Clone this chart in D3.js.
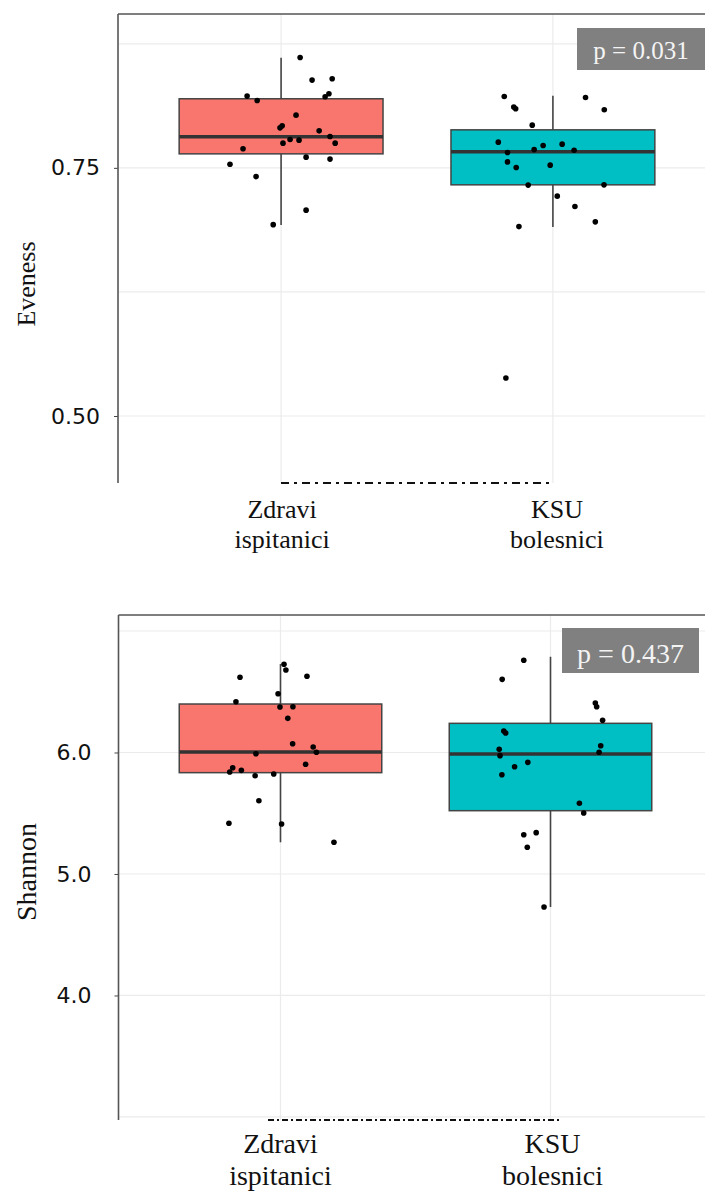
<!DOCTYPE html>
<html><head><meta charset="utf-8">
<script src="https://cdn.jsdelivr.net/npm/d3@7"></script>
<style>html,body{margin:0;padding:0;background:#fff;}svg{display:block;}
.serif{font-family:"Liberation Serif","Times New Roman","DejaVu Serif",serif;}
</style>
</head><body>
<svg id="chart" width="705" height="1193"></svg>
<script>
// ---------- DATA ----------
const catLine1 = ["Zdravi", "KSU"];
const catLine2 = ["ispitanici", "bolesnici"];
const boxColors = ["#F8766D", "#00BFC4"];

// Eveness panel
const evenessTicks = [0.50, 0.75];
const evenessGrid = [0.50, 0.625, 0.75, 0.875];
const evenessQ1 = [0.7641, 0.7329];
const evenessMedian = [0.7813, 0.7661];
const evenessQ3 = [0.8196, 0.7883];
const evenessLow = [0.6925, 0.6905];
const evenessHigh = [0.8609, 0.8226];
const evenessZdravi = [0.8612,0.8384,0.8397,0.8246,0.8216,0.8223,0.8178,0.8031,0.7923,0.7903,0.7873,0.7816,0.7785,0.7779,0.7749,0.7749,0.7692,0.7608,0.7588,0.7537,0.7412,0.7074,0.6928];
const evenessZdraviJitter = [0.070,0.114,0.188,0.176,0.162,-0.125,-0.088,0.055,0.004,-0.004,0.140,0.180,0.033,0.066,0.199,0.007,-0.140,0.092,0.180,-0.188,-0.092,0.092,-0.029];
const evenessKSU = [0.8219,0.8112,0.8095,0.8209,0.8085,0.7930,0.7759,0.7725,0.7739,0.7684,0.7678,0.7654,0.7560,0.7503,0.7527,0.7326,0.7329,0.7215,0.7110,0.6956,0.6908,0.5383];
const evenessKSUJitter = [-0.179,-0.144,-0.137,0.120,0.189,-0.076,-0.201,-0.036,0.034,-0.069,0.078,-0.167,-0.167,-0.135,-0.010,-0.091,0.188,0.016,0.081,0.156,-0.125,-0.173];
const evenessP = "p = 0.031";

// Shannon panel
const shannonTicks = [4.0, 5.0, 6.0];
const shannonGrid = [3, 4, 5, 6, 7];
const shannonQ1 = [5.834, 5.521];
const shannonMedian = [6.004, 5.988];
const shannonQ3 = [6.399, 6.240];
const shannonLow = [5.261, 4.728];
const shannonHigh = [6.728, 6.788];
const shannonZdravi = [6.726,6.679,6.619,6.627,6.484,6.418,6.374,6.377,6.281,6.072,6.045,6.002,5.990,5.903,5.875,5.840,5.853,5.809,5.823,5.603,5.417,5.412,5.261];
const shannonZdraviJitter = [0.013,0.020,-0.150,0.098,-0.009,-0.165,-0.002,0.046,0.027,0.045,0.121,0.133,-0.091,0.093,-0.177,-0.188,-0.145,-0.094,-0.025,-0.080,-0.191,0.004,0.198];
const shannonKSU = [6.759,6.602,6.407,6.377,6.265,6.177,6.160,6.026,6.056,6.002,5.974,5.919,5.883,5.817,5.582,5.502,5.323,5.340,5.220,4.728];
const shannonKSUJitter = [-0.099,-0.179,0.166,0.171,0.193,-0.173,-0.166,-0.190,0.186,0.180,-0.187,-0.084,-0.133,-0.180,0.107,0.123,-0.099,-0.053,-0.086,-0.024];
const shannonP = "p = 0.437";

// ---------- DRAW ----------
const svg = d3.select("#chart");

function panel(cfg) {
  const g = svg.append("g");
  const x = d3.scaleLinear().domain([0.4, 2.6]).range(cfg.xRange);
  const y = d3.scaleLinear().domain(cfg.yDomain).range(cfg.yRange);
  const [top, bottom] = [cfg.yRange[1], cfg.yRange[0]];
  const left = cfg.xRange[0];

  g.selectAll(".hg").data(cfg.grid).join("line")
    .attr("x1", left).attr("x2", 705)
    .attr("y1", d => y(d)).attr("y2", d => y(d))
    .attr("stroke", "#ebebeb").attr("stroke-width", 1.2);
  g.selectAll(".vg").data([1, 2]).join("line")
    .attr("x1", d => x(d)).attr("x2", d => x(d))
    .attr("y1", top).attr("y2", bottom)
    .attr("stroke", "#ebebeb").attr("stroke-width", 1.2);

  const axis = d3.axisLeft(y).tickValues(cfg.ticks).tickSize(4)
    .tickFormat(d3.format(cfg.fmt)).tickPadding(cfg.tickPad);
  const ag = g.append("g").attr("transform", `translate(${left},0)`).call(axis);
  ag.select(".domain").remove();
  ag.selectAll(".tick line").attr("stroke", "#444");
  ag.selectAll("text").attr("font-family", "DejaVu Sans").attr("font-size", 22).attr("fill", "#111");

  g.append("line").attr("x1", left).attr("x2", left).attr("y1", top).attr("y2", bottom)
    .attr("stroke", "#555").attr("stroke-width", 1.6);
  g.append("line").attr("x1", left).attr("x2", 705).attr("y1", top).attr("y2", top)
    .attr("stroke", "#555").attr("stroke-width", 1.6);

  g.append("line").attr("x1", cfg.dashX[0]).attr("x2", cfg.dashX[1]).attr("y1", bottom).attr("y2", bottom)
    .attr("stroke", "#111").attr("stroke-width", 2).attr("stroke-dasharray", cfg.dashArray);

  const bw = 0.75 / 2;
  [0, 1].forEach(i => {
    const c = i + 1;
    g.append("line").attr("x1", x(c)).attr("x2", x(c))
      .attr("y1", y(cfg.high[i])).attr("y2", y(cfg.low[i]))
      .attr("stroke", "#444").attr("stroke-width", 1.6);
    g.append("rect").attr("x", x(c - bw)).attr("width", x(c + bw) - x(c - bw))
      .attr("y", y(cfg.q3[i])).attr("height", y(cfg.q1[i]) - y(cfg.q3[i]))
      .attr("fill", boxColors[i]).attr("stroke", "#444").attr("stroke-width", 1.5);
    g.append("line").attr("x1", x(c - bw)).attr("x2", x(c + bw))
      .attr("y1", y(cfg.median[i])).attr("y2", y(cfg.median[i]))
      .attr("stroke", "#333").attr("stroke-width", 3.5);
  });

  cfg.points.forEach((vals, i) => {
    g.selectAll(null).data(vals).join("circle")
      .attr("cx", (d, k) => x(i + 1 + cfg.jitter[i][k]))
      .attr("cy", d => y(d)).attr("r", 2.8).attr("fill", "#000");
  });

  g.append("text").attr("class", "serif")
    .attr("transform", `translate(${cfg.titlePos[0]},${cfg.titlePos[1]}) rotate(-90)`)
    .attr("text-anchor", "middle").attr("dominant-baseline", "central")
    .attr("font-size", cfg.titleSize).attr("fill", "#111")
    .text(cfg.title);

  [0, 1].forEach(i => {
    const t = g.append("text").attr("class", "serif").attr("text-anchor", "middle")
      .attr("font-size", cfg.labSize).attr("fill", "#111");
    t.append("tspan").attr("x", x(i + 1) + cfg.labDx[i]).attr("y", cfg.labY[0]).text(catLine1[i]);
    t.append("tspan").attr("x", x(i + 1) + cfg.labDx[i]).attr("y", cfg.labY[1]).text(catLine2[i]);
  });

  const pb = cfg.pBox;
  g.append("rect").attr("x", pb[0]).attr("y", pb[1]).attr("width", pb[2]).attr("height", pb[3]).attr("fill", "#808080");
  g.append("text").attr("class", "serif").attr("x", pb[0] + pb[2] / 2).attr("y", pb[4]).attr("text-anchor", "middle")
    .attr("font-size", cfg.pSize).attr("fill", "#f4f4f4")
    .text(cfg.pText);
}

panel({
  xRange: [118, 716], yRange: [483, 14], yDomain: [0.4325, 0.905],
  grid: evenessGrid, ticks: evenessTicks, fmt: ".2f", tickPad: 14,
  q1: evenessQ1, median: evenessMedian, q3: evenessQ3, low: evenessLow, high: evenessHigh,
  points: [evenessZdravi, evenessKSU], jitter: [evenessZdraviJitter, evenessKSUJitter],
  dashX: [281, 550], dashArray: "8,5,3,5",
  title: "Eveness", titlePos: [26, 284], titleSize: 26,
  labSize: 26, labY: [518, 548], labDx: [1, 4],
  pBox: [577, 28, 128, 42, 59], pSize: 25, pText: evenessP
});

panel({
  xRange: [118.5, 712.5], yRange: [1120, 615], yDomain: [2.975, 7.1317],
  grid: shannonGrid, ticks: shannonTicks, fmt: ".1f", tickPad: 23,
  q1: shannonQ1, median: shannonMedian, q3: shannonQ3, low: shannonLow, high: shannonHigh,
  points: [shannonZdravi, shannonKSU], jitter: [shannonZdraviJitter, shannonKSUJitter],
  dashX: [268, 560], dashArray: "6,3,2,3",
  title: "Shannon", titlePos: [26, 872], titleSize: 28,
  labSize: 28, labY: [1153, 1185], labDx: [0, 2],
  pBox: [562, 628, 137, 45, 663], pSize: 28, pText: shannonP
});
</script>
</body></html>
